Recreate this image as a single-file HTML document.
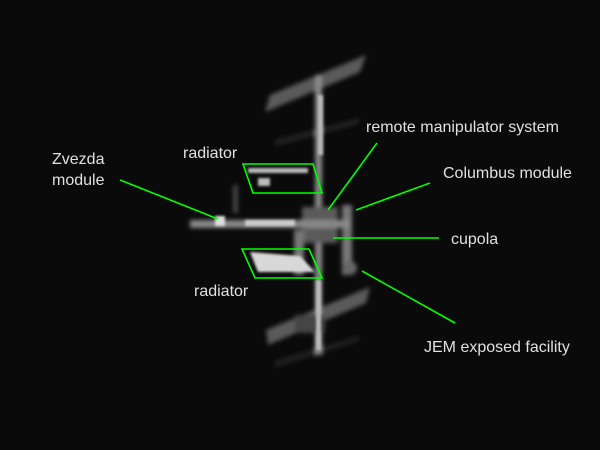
<!DOCTYPE html>
<html><head><meta charset="utf-8"><style>
html,body{margin:0;padding:0;background:#0a0a0a;}
svg{display:block}
text{font-family:"Liberation Sans",Arial,sans-serif;font-size:16px;fill:#e0e0e0}
</style></head><body>
<svg width="600" height="450" viewBox="0 0 600 450" xmlns="http://www.w3.org/2000/svg">
<defs>
<filter id="b" x="-50%" y="-50%" width="200%" height="200%"><feGaussianBlur stdDeviation="2"/></filter>
<filter id="b1" x="-50%" y="-50%" width="200%" height="200%"><feGaussianBlur stdDeviation="1.2"/></filter>
</defs>
<rect width="600" height="450" fill="#0a0a0a"/>
<g filter="url(#b)">
<polygon points="270,95 366,55 360,72 265,112" fill="#5a5a5a"/>
<polygon points="266,330 370,287 366,303 268,345" fill="#5a5a5a"/>
<polygon points="275,140 360,118 358,124 275,146" fill="#222"/>
<polygon points="275,360 360,335 358,342 275,368" fill="#1f1f1f"/>
<rect x="315" y="75" width="7" height="280" fill="#888"/>
<rect x="302" y="207" width="36" height="36" fill="#5a5a5a"/>
<rect x="342" y="205" width="10" height="70" fill="#777"/>
<rect x="190" y="220" width="160" height="8" fill="#888"/>
<rect x="294" y="230" width="10" height="45" fill="#777"/>
<circle cx="350" cy="268" r="7" fill="#666"/>
<rect x="233" y="185" width="5" height="28" fill="#444"/>
<rect x="295" y="315" width="30" height="18" fill="#444"/>
</g>
<g filter="url(#b1)">
<rect x="215" y="216" width="10" height="10" fill="#ddd"/>
<rect x="245" y="220" width="50" height="6" fill="#ccc"/>
<rect x="248" y="168" width="60" height="5" fill="#bbb"/>
<rect x="258" y="178" width="12" height="8" fill="#bbb"/>
<polygon points="250,252 300,256 315,272 258,272" fill="#d8d8d8"/>
<rect x="316" y="280" width="5" height="70" fill="#bbb"/>
<rect x="318" y="95" width="5" height="60" fill="#bbb"/>
</g>
<g fill="none" stroke="#00ff00" stroke-width="1.6">
<polygon points="243,164 313,164 322,193 253,193"/>
<polygon points="242,249 309,249 322,278 255,278"/>
<line x1="120" y1="180" x2="218" y2="219"/>
<line x1="377" y1="143" x2="328" y2="210"/>
<line x1="430" y1="183" x2="356" y2="210"/>
<line x1="333" y1="238" x2="439" y2="238"/>
<line x1="362" y1="271" x2="455" y2="323"/>
</g>
<text x="183" y="158">radiator</text>
<text x="194" y="296">radiator</text>
<text x="52" y="164">Zvezda</text>
<text x="52" y="185">module</text>
<text x="366" y="132">remote manipulator system</text>
<text x="443" y="178">Columbus module</text>
<text x="451" y="244">cupola</text>
<text x="424" y="352">JEM exposed facility</text>
</svg>
</body></html>
